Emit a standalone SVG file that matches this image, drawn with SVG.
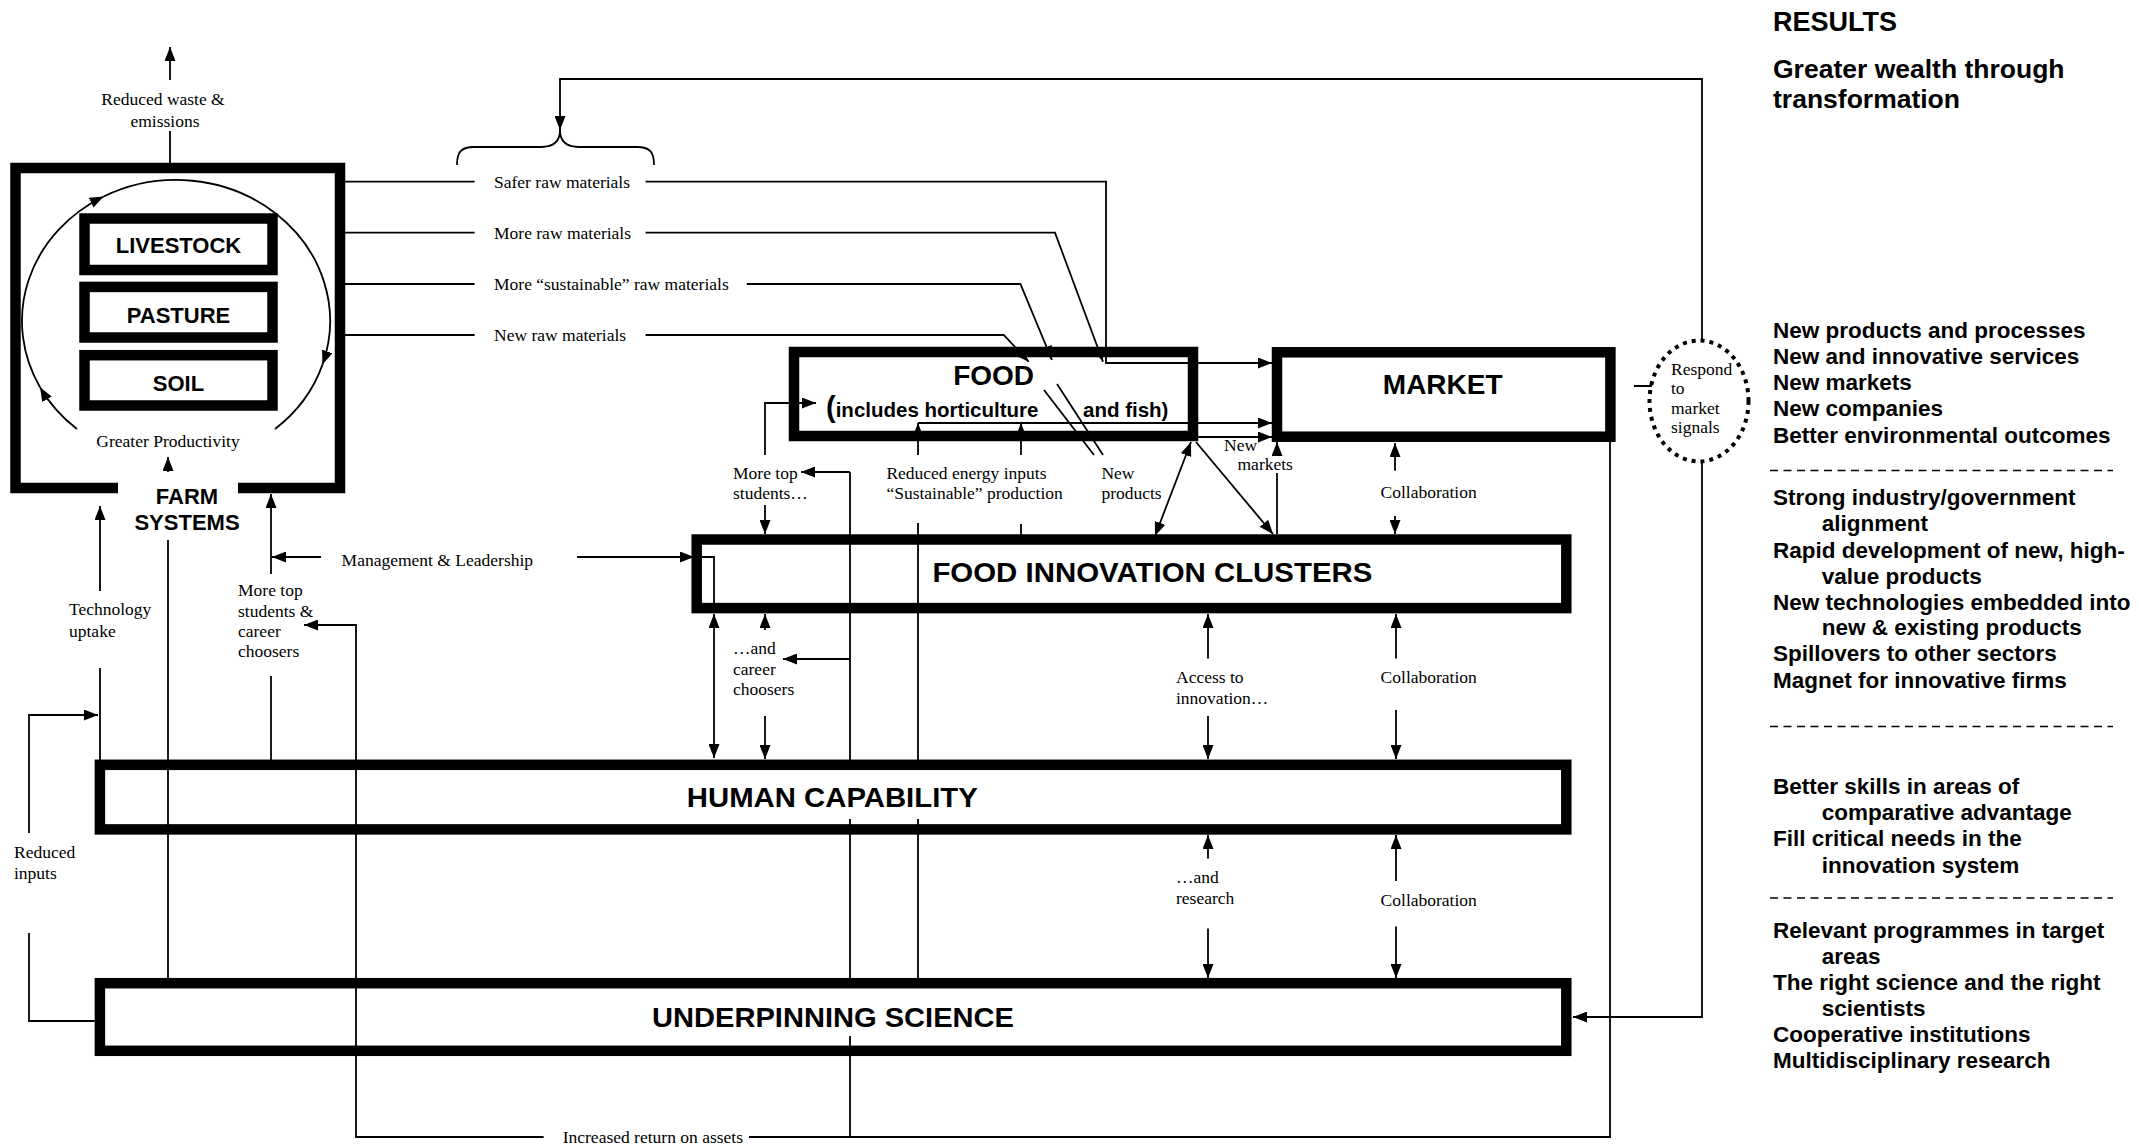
<svg xmlns="http://www.w3.org/2000/svg" width="2139" height="1146" viewBox="0 0 2139 1146">
<style>
.box{fill:#fff;stroke:#000;stroke-width:10.5}
.ln{fill:none;stroke:#000;stroke-width:1.8}
.lbl{font-family:"Liberation Serif","Times New Roman",serif;font-size:17.5px;fill:#000}
.big{font-family:"Liberation Sans",Arial,sans-serif;font-weight:bold;fill:#000}
.res{font-family:"Liberation Sans",Arial,sans-serif;font-weight:bold;font-size:22.5px;fill:#000}
.dash{stroke:#000;stroke-width:1.5;stroke-dasharray:8 5.5}
</style>
<defs>
<marker id="ah" viewBox="0 0 14 11" refX="14" refY="5.5" markerWidth="14" markerHeight="11" markerUnits="userSpaceOnUse" orient="auto-start-reverse"><path d="M0,0 L14,5.5 L0,11 z" fill="#000"/></marker>
</defs>
<rect width="2139" height="1146" fill="#fff"/>

<g id="farm-systems">
<path d="M118,488 H15.5 V168 H340 V488 H238" fill="none" stroke="#000" stroke-width="10.5"/>
<text class="big" x="187" y="504" font-size="22" text-anchor="middle">FARM</text>
<text class="big" x="187" y="530" font-size="22" text-anchor="middle">SYSTEMS</text>
<text class="lbl" x="168" y="447" text-anchor="middle">Greater Productivity</text>
</g>
<g id="livestock"><rect class="box" x="84.5" y="218.5" width="188" height="51.5" stroke-width="10.4"/><text class="big" x="178.5" y="253" font-size="22" text-anchor="middle">LIVESTOCK</text></g>
<g id="pasture"><rect class="box" x="84.5" y="286.9" width="188" height="50.6" stroke-width="10.4"/><text class="big" x="178.5" y="322.5" font-size="22" text-anchor="middle">PASTURE</text></g>
<g id="soil"><rect class="box" x="84.5" y="355.2" width="188" height="50.3" stroke-width="10.4"/><text class="big" x="178.5" y="390.5" font-size="22" text-anchor="middle">SOIL</text></g>

<g id="food"><rect class="box" x="794" y="352" width="399" height="84" stroke-width="10"/>
<text class="big" x="993.6" y="385" font-size="28" text-anchor="middle">FOOD</text>
<text class="big" x="826" y="416.7" font-size="20.5"><tspan font-size="29">(</tspan>includes horticulture</text>
<text class="big" x="1083" y="416.7" font-size="20.5">and fish)</text></g>

<g id="market"><rect class="box" x="1277" y="352.3" width="333.4" height="84.4" stroke-width="10"/>
<text class="big" x="1442.7" y="394" font-size="28" text-anchor="middle">MARKET</text></g>

<g id="food-innovation-clusters"><rect class="box" x="696.7" y="539.5" width="869.6" height="68.6" stroke-width="10.4"/>
<text class="big" x="1152.4" y="582.4" font-size="28" text-anchor="middle" textLength="440" lengthAdjust="spacingAndGlyphs">FOOD INNOVATION CLUSTERS</text></g>

<g id="human-capability"><rect class="box" x="99.9" y="764.8" width="1466.4" height="64.6" stroke-width="10.4"/>
<text class="big" x="832.3" y="807" font-size="28" text-anchor="middle" textLength="291" lengthAdjust="spacingAndGlyphs">HUMAN CAPABILITY</text></g>

<g id="underpinning-science"><rect class="box" x="99.9" y="983.2" width="1466.4" height="67.6" stroke-width="10.4"/>
<text class="big" x="833" y="1026.6" font-size="28" text-anchor="middle" textLength="362" lengthAdjust="spacingAndGlyphs">UNDERPINNING SCIENCE</text></g>

<g id="respond-to-market-signals">
<ellipse cx="1699" cy="401" rx="49.5" ry="60.5" fill="none" stroke="#000" stroke-width="4" stroke-dasharray="4 5"/>
<text class="lbl" x="1671" y="375" font-size="17">Respond</text>
<text class="lbl" x="1671" y="394" font-size="17">to</text>
<text class="lbl" x="1671" y="413.5" font-size="17">market</text>
<text class="lbl" x="1671" y="433" font-size="17">signals</text>
</g>

<g id="connectors" class="ln">
<path d="M77,429 A154,141 0 0 1 40,387.2" marker-end="url(#ah)"/>
<path d="M40,387.2 A154,141 0 0 1 103.7,196.5" marker-end="url(#ah)"/>
<path d="M103.7,196.5 A154,141 0 0 1 322.5,364.6" marker-end="url(#ah)"/>
<path d="M322.5,364.6 A154,141 0 0 1 275,429"/>
<path d="M168,472 V457" marker-end="url(#ah)"/>
<path d="M170,163 V131"/>
<path d="M170,80 V47" marker-end="url(#ah)"/>
<path d="M345,181.7 H474.6 M345,232.7 H474.6 M345,284 H474.6 M345,335 H474.6"/>
<path d="M645.6,181.7 H1106 V363 H1272" marker-end="url(#ah)"/>
<path d="M645.6,232.7 H1055 L1103,361.7" marker-end="url(#ah)"/>
<path d="M746.8,284 H1020.4 L1052,360" marker-end="url(#ah)"/>
<path d="M645.6,335 H1003.8 L1028.7,361.7" marker-end="url(#ah)"/>
<path d="M457,165 C457,152 461,147 474,147 H541 C554,147 560,141 560,130 C560,141 566,147 579,147 H637 C650,147 654,152 654,165"/>
<path d="M1702,341 V79 H560 V130" marker-end="url(#ah)"/>
<path d="M1702,462 V1017 H1573" marker-end="url(#ah)"/>
<path d="M1634,386 H1651 V381.5"/>
<path d="M100,591 V506" marker-end="url(#ah)"/>
<path d="M100,668 V760"/>
<path d="M29,833 V715 H98" marker-end="url(#ah)"/>
<path d="M29,933 V1021 H94.7"/>
<path d="M168,540 V978"/>
<path d="M271,574 V494" marker-end="url(#ah)"/>
<path d="M271,676 V760"/>
<path d="M321,557 H272" marker-end="url(#ah)"/>
<path d="M577,557 H694" marker-end="url(#ah)"/>
<path d="M702,557 H714 V608"/>
<path d="M714,614 V758" marker-start="url(#ah)" marker-end="url(#ah)"/>
<path d="M543.6,1137 H356 V625 H304" marker-end="url(#ah)"/>
<path d="M765,455 V403 H816" marker-end="url(#ah)"/>
<path d="M765,505 V534" marker-end="url(#ah)"/>
<path d="M850,472 H801" marker-end="url(#ah)"/>
<path d="M850,472 V770 M850,819 V988 M850,1036 V1137"/>
<path d="M850,659 H783" marker-end="url(#ah)"/>
<path d="M765,630 V614" marker-end="url(#ah)"/>
<path d="M765,716 V759" marker-end="url(#ah)"/>
<path d="M918,978 V819 M918,770 V523"/>
<path d="M918,455 V423" marker-end="url(#ah)"/>
<path d="M1021,535 V524"/>
<path d="M1021,455 V423" marker-end="url(#ah)"/>
<path d="M918,423 H1272" marker-end="url(#ah)"/>
<path d="M1198,437 H1272" marker-end="url(#ah)"/>
<path d="M1044,390 L1094,455 M1057,384 L1103,455"/>
<path d="M1155,536 L1191,442" marker-start="url(#ah)" marker-end="url(#ah)"/>
<path d="M1196,442 L1273,534" marker-end="url(#ah)"/>
<path d="M1277,456 V442" marker-end="url(#ah)"/>
<path d="M1277,473 V534"/>
<path d="M1395,470.7 V443" marker-end="url(#ah)"/>
<path d="M1395,516 V534" marker-end="url(#ah)"/>
<path d="M1208,658.6 V614" marker-end="url(#ah)"/>
<path d="M1208,716 V759" marker-end="url(#ah)"/>
<path d="M1396,658.6 V614" marker-end="url(#ah)"/>
<path d="M1396,710 V759" marker-end="url(#ah)"/>
<path d="M1208,858.5 V835" marker-end="url(#ah)"/>
<path d="M1208,928.5 V978" marker-end="url(#ah)"/>
<path d="M1396,881 V835" marker-end="url(#ah)"/>
<path d="M1396,926.5 V978" marker-end="url(#ah)"/>
<path d="M1610,442 V1137 H749"/>
</g>

<g id="connector-labels" class="lbl">
<text x="163" y="105" text-anchor="middle">Reduced waste &amp;</text>
<text x="165" y="127" text-anchor="middle">emissions</text>
<text x="494" y="187.7">Safer raw materials</text>
<text x="494" y="238.7">More raw materials</text>
<text x="494" y="290">More “sustainable” raw materials</text>
<text x="494" y="341">New raw materials</text>
<text x="69" y="615">Technology</text>
<text x="69" y="637">uptake</text>
<text x="14" y="858">Reduced</text>
<text x="14" y="879">inputs</text>
<text x="341.6" y="566">Management &amp; Leadership</text>
<text x="238" y="596">More top</text>
<text x="238" y="617">students &amp;</text>
<text x="238" y="637">career</text>
<text x="238" y="657">choosers</text>
<text x="733" y="479">More top</text>
<text x="733" y="499">students…</text>
<text x="886.4" y="479">Reduced energy inputs</text>
<text x="886.4" y="499">“Sustainable” production</text>
<text x="1101.4" y="479">New</text>
<text x="1101.4" y="499">products</text>
<text x="1224" y="450.5">New</text>
<text x="1237.5" y="470">markets</text>
<text x="1380.5" y="498">Collaboration</text>
<text x="733" y="654">…and</text>
<text x="733" y="675">career</text>
<text x="733" y="695">choosers</text>
<text x="1176" y="683">Access to</text>
<text x="1176" y="704">innovation…</text>
<text x="1380.6" y="683">Collaboration</text>
<text x="1176" y="883">…and</text>
<text x="1176" y="904">research</text>
<text x="1380.6" y="906">Collaboration</text>
<text x="562.7" y="1143">Increased return on assets</text>
</g>

<g id="results">
<text class="big" x="1773" y="30.5" font-size="27">RESULTS</text>
<text class="big" x="1773" y="78" font-size="26.5">Greater wealth through</text>
<text class="big" x="1773" y="108" font-size="26.5">transformation</text>
<g class="res">
<text x="1773" y="338">New products and processes</text>
<text x="1773" y="364">New and innovative services</text>
<text x="1773" y="390">New markets</text>
<text x="1773" y="416">New companies</text>
<text x="1773" y="443">Better environmental outcomes</text>
<text x="1773" y="505">Strong industry/government</text>
<text x="1821.7" y="531">alignment</text>
<text x="1773" y="557.5">Rapid development of new, high-</text>
<text x="1821.7" y="583.5">value products</text>
<text x="1773" y="609.5">New technologies embedded into</text>
<text x="1821.7" y="635">new &amp; existing products</text>
<text x="1773" y="661">Spillovers to other sectors</text>
<text x="1773" y="687.5">Magnet for innovative firms</text>
<text x="1773" y="794">Better skills in areas of</text>
<text x="1821.7" y="820">comparative advantage</text>
<text x="1773" y="846">Fill critical needs in the</text>
<text x="1821.7" y="872.5">innovation system</text>
<text x="1773" y="938">Relevant programmes in target</text>
<text x="1821.7" y="964">areas</text>
<text x="1773" y="990">The right science and the right</text>
<text x="1821.7" y="1016">scientists</text>
<text x="1773" y="1042">Cooperative institutions</text>
<text x="1773" y="1068">Multidisciplinary research</text>
</g>
<line class="dash" x1="1770" y1="470.6" x2="2113" y2="470.6"/>
<line class="dash" x1="1770" y1="726.5" x2="2113" y2="726.5"/>
<line class="dash" x1="1770" y1="898" x2="2113" y2="898"/>
</g>
</svg>
